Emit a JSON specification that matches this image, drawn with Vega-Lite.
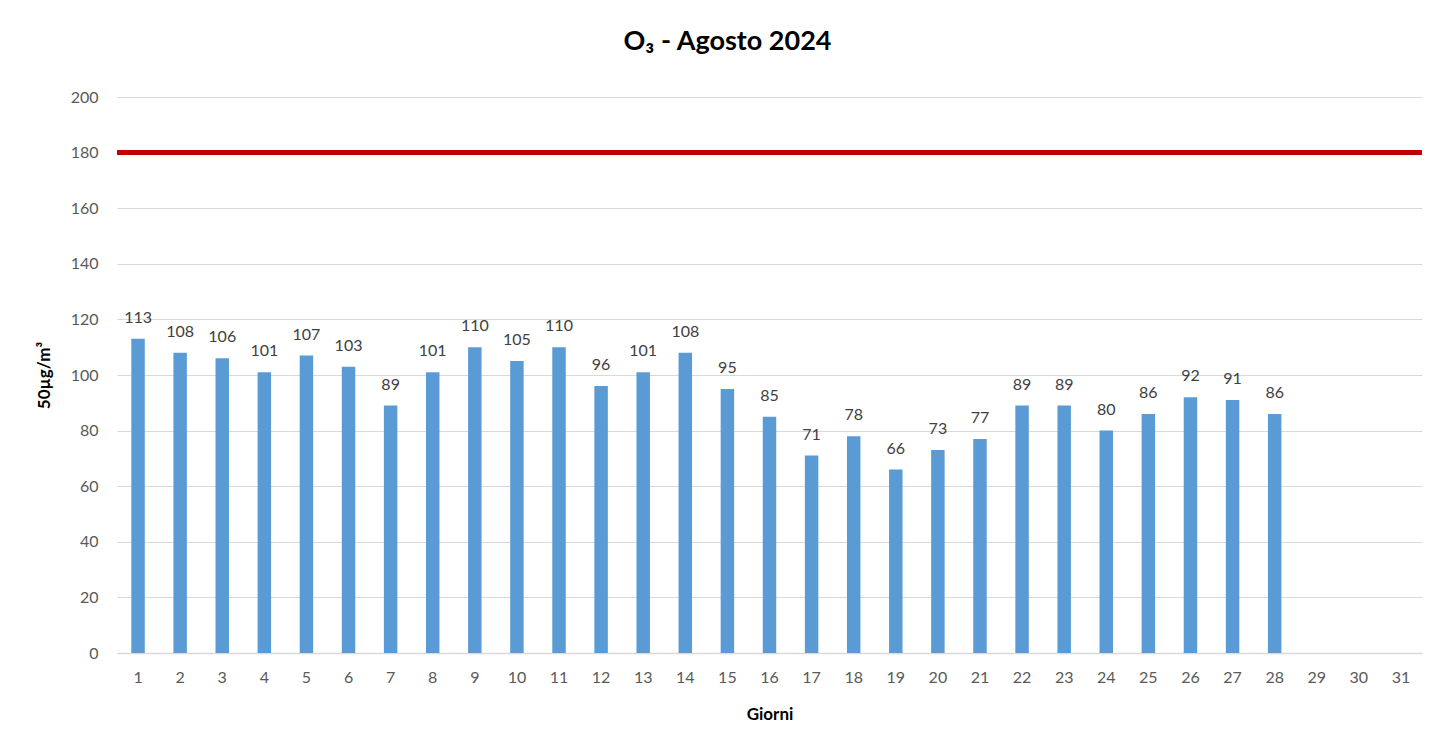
{
  "$schema": "https://vega.github.io/schema/vega-lite/v6.json",
  "autosize": "none",
  "width": 1305,
  "height": 556,
  "padding": {"left": 117, "top": 97, "right": 15, "bottom": 94},
  "background": "white",
  "config": {"view": {"stroke": null}, "font": "Lato"},
  "title": {
    "text": "O₃ - Agosto 2024",
    "font": "Lato",
    "fontSize": 27,
    "fontWeight": "bold",
    "color": "#000000",
    "anchor": "middle",
    "frame": "group",
    "dx": -42,
    "offset": 33
  },
  "data": {
    "values": [
      {"giorno": 1, "valore": 113}, {"giorno": 2, "valore": 108}, {"giorno": 3, "valore": 106},
      {"giorno": 4, "valore": 101}, {"giorno": 5, "valore": 107}, {"giorno": 6, "valore": 103},
      {"giorno": 7, "valore": 89}, {"giorno": 8, "valore": 101}, {"giorno": 9, "valore": 110},
      {"giorno": 10, "valore": 105}, {"giorno": 11, "valore": 110}, {"giorno": 12, "valore": 96},
      {"giorno": 13, "valore": 101}, {"giorno": 14, "valore": 108}, {"giorno": 15, "valore": 95},
      {"giorno": 16, "valore": 85}, {"giorno": 17, "valore": 71}, {"giorno": 18, "valore": 78},
      {"giorno": 19, "valore": 66}, {"giorno": 20, "valore": 73}, {"giorno": 21, "valore": 77},
      {"giorno": 22, "valore": 89}, {"giorno": 23, "valore": 89}, {"giorno": 24, "valore": 80},
      {"giorno": 25, "valore": 86}, {"giorno": 26, "valore": 92}, {"giorno": 27, "valore": 91},
      {"giorno": 28, "valore": 86}
    ]
  },
  "encoding": {
    "x": {
      "field": "giorno",
      "type": "ordinal",
      "scale": {"domain": [1,2,3,4,5,6,7,8,9,10,11,12,13,14,15,16,17,18,19,20,21,22,23,24,25,26,27,28,29,30,31], "paddingInner": 0.68, "paddingOuter": 0.34},
      "axis": {
        "title": "Giorni",
        "titleFont": "Lato",
        "titleFontSize": 17,
        "titleFontWeight": "bold",
        "titleColor": "#000000",
        "titlePadding": 21,
        "labelAngle": 0,
        "labelFontSize": 16,
        "labelColor": "#595959",
        "labelPadding": 16,
        "ticks": false,
        "domainColor": "#D9D9D9",
        "domainWidth": 1.5,
        "grid": false
      }
    },
    "y": {
      "field": "valore",
      "type": "quantitative",
      "scale": {"domain": [0, 200], "nice": false},
      "axis": {
        "title": "50µg/m³",
        "titleFont": "Lato",
        "titleFontSize": 17,
        "titleFontWeight": "bold",
        "titleColor": "#000000",
        "titlePadding": 17,
        "values": [0,20,40,60,80,100,120,140,160,180,200],
        "labelFontSize": 16,
        "labelColor": "#595959",
        "labelPadding": 19,
        "ticks": false,
        "domain": false,
        "grid": true,
        "gridColor": "#D9D9D9",
        "gridWidth": 1
      }
    }
  },
  "layer": [
    {
      "mark": {"type": "bar", "color": "#5B9BD5"}
    },
    {
      "mark": {"type": "text", "fontSize": 16, "color": "#404040", "baseline": "middle", "dy": -21},
      "encoding": {"text": {"field": "valore", "type": "quantitative"}}
    },
    {
      "data": {"values": [{"limite": 180}]},
      "mark": {"type": "rule", "color": "#C00000", "strokeWidth": 5},
      "encoding": {"x": null, "y": {"field": "limite", "type": "quantitative"}}
    }
  ]
}
